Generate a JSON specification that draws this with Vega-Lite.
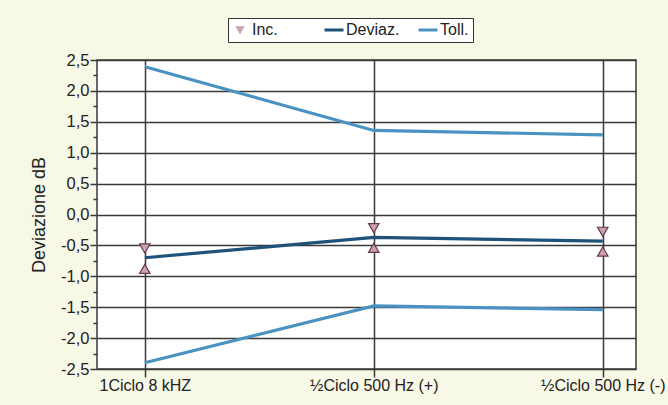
{
  "$schema": "https://vega.github.io/schema/vega-lite/v6.json",
  "autosize": "none",
  "width": 539,
  "height": 309,
  "padding": {"left": 97, "top": 60, "right": 32, "bottom": 36},
  "background": "#f8f8e6",
  "config": {
    "view": {"fill": "white", "stroke": "#3a3a3a", "strokeWidth": 1.5},
    "font": "Liberation Sans"
  },
  "datasets": {
    "lines": [
      {"cat": "1Ciclo 8 kHZ", "series": "Toll.", "part": "upper", "value": 2.39},
      {"cat": "½Ciclo 500 Hz (+)", "series": "Toll.", "part": "upper", "value": 1.36},
      {"cat": "½Ciclo 500 Hz (-)", "series": "Toll.", "part": "upper", "value": 1.29},
      {"cat": "1Ciclo 8 kHZ", "series": "Toll.", "part": "lower", "value": -2.4},
      {"cat": "½Ciclo 500 Hz (+)", "series": "Toll.", "part": "lower", "value": -1.48},
      {"cat": "½Ciclo 500 Hz (-)", "series": "Toll.", "part": "lower", "value": -1.54},
      {"cat": "1Ciclo 8 kHZ", "series": "Deviaz.", "part": "main", "value": -0.7},
      {"cat": "½Ciclo 500 Hz (+)", "series": "Deviaz.", "part": "main", "value": -0.37},
      {"cat": "½Ciclo 500 Hz (-)", "series": "Deviaz.", "part": "main", "value": -0.43}
    ],
    "inc": [
      {"cat": "1Ciclo 8 kHZ", "dir": "down", "value": -0.55},
      {"cat": "1Ciclo 8 kHZ", "dir": "up", "value": -0.88},
      {"cat": "½Ciclo 500 Hz (+)", "dir": "down", "value": -0.22},
      {"cat": "½Ciclo 500 Hz (+)", "dir": "up", "value": -0.54},
      {"cat": "½Ciclo 500 Hz (-)", "dir": "down", "value": -0.28},
      {"cat": "½Ciclo 500 Hz (-)", "dir": "up", "value": -0.6}
    ]
  },
  "encoding": {
    "x": {
      "field": "cat",
      "type": "ordinal",
      "sort": ["1Ciclo 8 kHZ", "½Ciclo 500 Hz (+)", "½Ciclo 500 Hz (-)"],
      "scale": {"type": "point", "padding": 0.177, "align": 0.59},
      "axis": {
        "title": null,
        "grid": true,
        "gridColor": "#3a3a3a",
        "gridWidth": 1.5,
        "domain": false,
        "tickColor": "#3a3a3a",
        "tickWidth": 1.5,
        "tickSize": 8,
        "labelAngle": 0,
        "labelFontSize": 16,
        "labelColor": "#222",
        "labelPadding": 0,
        "labelOverlap": false
      }
    },
    "y": {
      "field": "value",
      "type": "quantitative",
      "scale": {"domain": [-2.5, 2.5], "nice": false, "zero": false},
      "axis": {
        "title": "Deviazione dB",
        "titleFontSize": 18,
        "titleFontWeight": "normal",
        "titleColor": "#222",
        "titlePadding": 12,
        "values": [-2.5, -2.25, -2, -1.75, -1.5, -1.25, -1, -0.75, -0.5, -0.25, 0, 0.25, 0.5, 0.75, 1, 1.25, 1.5, 1.75, 2, 2.25, 2.5],
        "labelExpr": "abs(datum.value*2 - round(datum.value*2)) < 0.01 ? replace(replace(format(datum.value, '.1f'), '.', ','), '−', '-') : ''",
        "labelFontSize": 16.5,
        "labelColor": "#222",
        "labelPadding": 1,
        "labelOverlap": false,
        "domain": false,
        "grid": true,
        "gridColor": "#3a3a3a",
        "gridWidth": 1.5,
        "gridOpacity": {"condition": {"test": "abs(datum.value*2 - round(datum.value*2)) < 0.01", "value": 1}, "value": 0},
        "tickColor": "#3a3a3a",
        "tickWidth": 1.5,
        "tickSize": {"condition": {"test": "abs(datum.value*2 - round(datum.value*2)) < 0.01", "value": 7}, "value": 4}
      }
    }
  },
  "layer": [
    {
      "data": {"name": "lines"},
      "mark": {"type": "line", "strokeWidth": 3.2},
      "encoding": {
        "color": {
          "field": "series",
          "type": "nominal",
          "scale": {"domain": ["Inc.", "Deviaz.", "Toll."], "range": ["#c9a3b5", "#1f5278", "#4a92c2"]},
          "legend": {
            "title": null,
            "orient": "none",
            "legendX": 131,
            "legendY": -42,
            "direction": "horizontal",
            "columns": 3,
            "gridAlign": "all",
            "fillColor": "white",
            "strokeColor": "#333",
            "padding": 4,
            "labelFontSize": 16,
            "labelColor": "#222",
            "labelOffset": 4,
            "columnPadding": 12,
            "symbolSize": 361,
            "symbolStrokeWidth": 3,
            "encode": {
              "symbols": {
                "update": {
                  "shape": {"signal": "datum.value === 'Inc.' ? 'triangle-down' : 'stroke'"},
                  "size": {"signal": "datum.value === 'Inc.' ? 45 : 361"},
                  "fill": {"signal": "datum.value === 'Inc.' ? '#c9a3b5' : 'transparent'"},
                  "stroke": {"signal": "datum.value === 'Inc.' ? '#6a3848' : scale('color', datum.value)"},
                  "strokeWidth": {"signal": "datum.value === 'Inc.' ? 1.5 : 3"}
                }
              }
            }
          }
        },
        "detail": {"field": "part"}
      }
    },
    {
      "data": {"name": "inc"},
      "mark": {"type": "point", "filled": true, "fill": "#c9a3b5", "stroke": "#6a3848", "strokeWidth": 1.2, "size": 110, "opacity": 1},
      "encoding": {
        "shape": {
          "field": "dir",
          "type": "nominal",
          "scale": {"domain": ["down", "up"], "range": ["triangle-down", "triangle-up"]},
          "legend": null
        }
      }
    }
  ]
}
